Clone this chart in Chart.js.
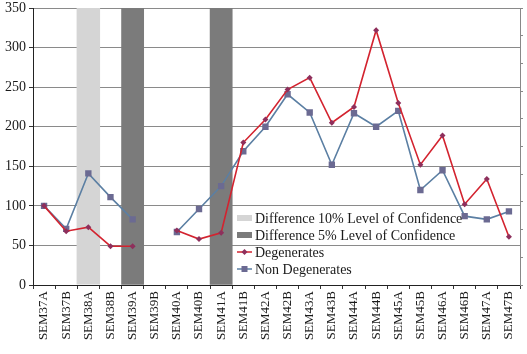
<!DOCTYPE html>
<html>
<head>
<meta charset="utf-8">
<script src="https://cdn.jsdelivr.net/npm/chart.js@4/dist/chart.umd.min.js"></script>
<style>
  html, body { margin: 0; padding: 0; background: #fff; }
  #wrap { width: 527px; height: 354px; }
</style>
</head>
<body>
<div id="wrap"><canvas id="ch" width="527" height="354"></canvas></div>
<script>
// ---- datos ----
const LABELS = ["SEM37A","SEM37B","SEM38A","SEM38B","SEM39A","SEM39B","SEM40A","SEM40B","SEM41A","SEM41B","SEM42A",
  "SEM42B","SEM43A","SEM43B","SEM44A","SEM44B","SEM45A","SEM45B","SEM46A","SEM46B","SEM47A","SEM47B"];
const DEGEN    = [100, 68, 73, 49, 49, null, 69, 58, 66, 180, 209, 247, 262, 205, 225, 322, 230, 152, 189, 102, 134, 61];
const NONDEGEN = [100, 71, 141, 111, 83, null, 67, 96, 125, 169, 200, 241, 218, 152, 217, 200, 220, 120, 145, 87, 83, 93];
// bandas de significancia (1 = semana marcada)
const CONF10 = [null, null, 1, null, null, null, null, null, null, null, null, null, null, null, null, null, null, null, null, null, null, null];
const CONF5  = [null, null, null, null, 1, null, null, null, 1, null, null, null, null, null, null, null, null, null, null, null, null, null];
const Y_MAX = 350, Y_STEP = 50;

const SERIF = '"Liberation Serif", "DejaVu Serif", serif';
Chart.defaults.font.family = SERIF;
Chart.defaults.color = "#222";

// leyenda dentro del área, sin caja
const legendBox = {
  id: "legendBox",
  afterDraw(chart){
    const ctx = chart.ctx;
    const x0 = 237, y0 = 218, dy = 17;
    ctx.save();
    ctx.font = "14px " + SERIF;
    ctx.textBaseline = "middle";
    chart.data.datasets.forEach((ds, i) => {
      const y = y0 + i * dy;
      if (ds.type === "bar"){
        ctx.fillStyle = ds.backgroundColor;
        ctx.fillRect(x0, y - 3, 15, 6);
      } else {
        ctx.strokeStyle = ds.borderColor;
        ctx.lineWidth = 1.5;
        ctx.beginPath(); ctx.moveTo(x0, y); ctx.lineTo(x0 + 15, y); ctx.stroke();
        ctx.fillStyle = ds.pointBackgroundColor;
        const cx = x0 + 7.5;
        if (ds.pointStyle === "rect") ctx.fillRect(cx - 3, y - 3, 6, 6);
        else { ctx.beginPath(); ctx.moveTo(cx, y - 3); ctx.lineTo(cx + 3, y); ctx.lineTo(cx, y + 3); ctx.lineTo(cx - 3, y); ctx.closePath(); ctx.fill(); }
      }
      ctx.fillStyle = "#1a1a1a";
      ctx.fillText(ds.label, x0 + 18, y + 1);
    });
    ctx.restore();
  }
};

const noPad = s => { s.paddingTop = 0; s.paddingBottom = 0; };

new Chart(document.getElementById("ch"), {
  data: {
    labels: LABELS,
    datasets: [
      { type: "bar", label: "Difference 10% Level of Confidence", data: CONF10, yAxisID: "y2",
        backgroundColor: "#d5d5d5", barPercentage: 1, categoryPercentage: 1.06, grouped: false, order: 3 },
      { type: "bar", label: "Difference 5% Level of Confidence", data: CONF5, yAxisID: "y2",
        backgroundColor: "#7b7b7b", barPercentage: 1, categoryPercentage: 1, grouped: false, order: 3 },
      { type: "line", label: "Degenerates", data: DEGEN, yAxisID: "y",
        borderColor: "#d3232f", borderWidth: 1.6, pointStyle: "rectRot", pointRadius: 3,
        pointBackgroundColor: "#8e2f5c", pointBorderColor: "#8e2f5c", pointBorderWidth: 0,
        tension: 0, spanGaps: false, order: 1 },
      { type: "line", label: "Non Degenerates", data: NONDEGEN, yAxisID: "y",
        borderColor: "#5b7fa3", borderWidth: 1.6, pointStyle: "rect", pointRadius: 4.5,
        pointBackgroundColor: "#6b6a92", pointBorderColor: "#6b6a92", pointBorderWidth: 0,
        tension: 0, spanGaps: false, order: 2 },
    ],
  },
  options: {
    responsive: false, animation: false, devicePixelRatio: 1,
    layout: { padding: { top: 8, left: 0, right: 0, bottom: 0 } },
    plugins: { legend: { display: false }, tooltip: { enabled: false } },
    scales: {
      x: {
        offset: true,
        grid: { offset: true, drawOnChartArea: false, tickLength: 4, tickColor: "#333" },
        border: { color: "#222", width: 1 },
        ticks: { autoSkip: false, minRotation: 90, maxRotation: 90, padding: 2, font: { size: 13 }, color: "#1a1a1a" },
        afterFit: s => { s.height = 69; s.paddingLeft = 0; s.paddingRight = 0; },
      },
      y: {
        min: 0, max: Y_MAX,
        ticks: { stepSize: Y_STEP, padding: 3, font: { size: 14 }, color: "#1a1a1a" },
        grid: { color: "#8a8a8a", tickLength: 4, tickColor: "#333" },
        border: { color: "#222", width: 1 },
        afterFit: s => { s.width = 33; noPad(s); },
      },
      y2: {
        position: "right", min: 0, max: 1,
        ticks: { display: false, stepSize: 0.1 },
        grid: { drawOnChartArea: false, tickLength: 3, tickColor: "#888" },
        border: { color: "#888", width: 1 },
        afterFit: s => { s.width = 7; noPad(s); },
      },
    },
  },
  plugins: [legendBox],
});
</script>
</body>
</html>
